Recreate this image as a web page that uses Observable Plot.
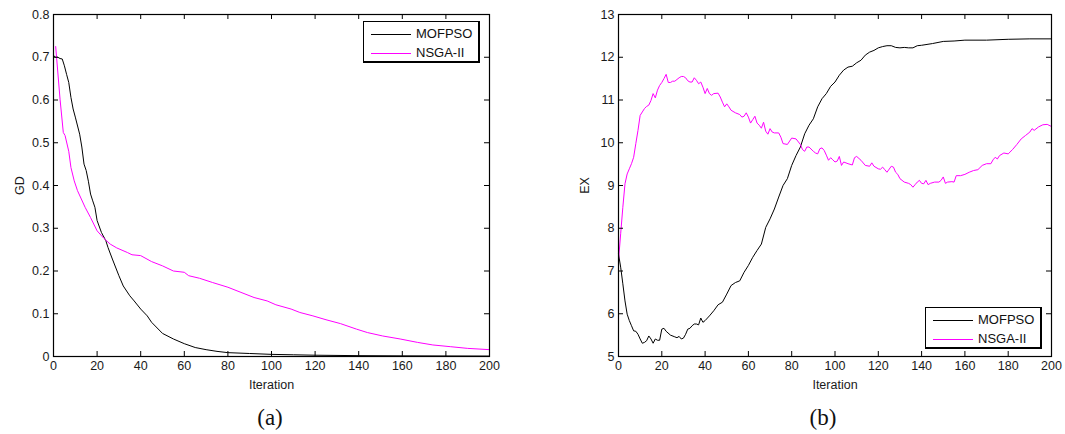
<!DOCTYPE html>
<html>
<head>
<meta charset="utf-8">
<script src="https://cdn.jsdelivr.net/npm/d3@7"></script>
<script src="https://cdn.jsdelivr.net/npm/@observablehq/plot@0.6"></script>
<style>
  html, body { margin: 0; padding: 0; background: #fff; }
  #root { position: relative; width: 1065px; height: 434px; overflow: hidden; background: #fff; }
  .panel { position: absolute; top: 0; }
  .caption { position: absolute; font-family: "Liberation Serif", "Times New Roman", serif; font-size: 23px; color: #111; transform: translateX(-50%); }
  .legend { position: absolute; box-sizing: border-box; border: 1px solid #000; border-right-width: 2px; border-bottom-width: 2px; background: #fff;
            font-family: "Liberation Sans", Arial, sans-serif; font-size: 13px; color: #111; }
  .row { position: absolute; left: 0; right: 0; height: 16px; }
  .row .sw { position: absolute; left: 7px; width: 40px; top: 8px; border-top: 1px solid; }
  .row .lb { position: absolute; left: 52px; top: 0px; line-height: 16px; }
</style>
</head>
<body>
<div id="root"></div>
<script>
// ---------- data ----------
const seriesNames = ["MOFPSO", "NSGA-II"];
const seriesColors = ["#000000", "#ff00ff"];
const xTicks = [0, 20, 40, 60, 80, 100, 120, 140, 160, 180, 200];
const gdTicks = [0, 0.1, 0.2, 0.3, 0.4, 0.5, 0.6, 0.7, 0.8];
const exTicks = [5, 6, 7, 8, 9, 10, 11, 12, 13];

// (a) GD, [iteration, value]
const gdMofpso = [
  [0,0.704],[1,0.70],[2,0.70],[3,0.697],[4,0.696],[5,0.68],[6,0.66],[7,0.641],[8,0.606],[9,0.579],[10,0.56],
  [12,0.52],[13,0.49],[14,0.45],[15,0.435],[16,0.41],[17,0.38],[18,0.364],[19,0.349],[20,0.318],[22,0.29],
  [24,0.271],[25,0.255],[27,0.228],[30,0.189],[32,0.165],[35,0.142],[37,0.130],[40,0.111],[43,0.095],[45,0.080],
  [50,0.054],[55,0.041],[60,0.030],[65,0.021],[70,0.016],[75,0.012],[80,0.009],[90,0.007],[100,0.005],[110,0.004],
  [120,0.003],[140,0.002],[160,0.0015],[200,0.001]
];
const gdNsga = [
  [1,0.725],[3,0.602],[4.5,0.524],[5.3,0.517],[7,0.48],[8,0.442],[9.5,0.411],[11,0.388],[14.5,0.349],[17,0.325],
  [20,0.294],[23,0.277],[26,0.263],[29,0.254],[34,0.243],[36,0.238],[40,0.236],[45,0.222],[50,0.212],[55,0.20],
  [60,0.197],[62,0.189],[67,0.183],[73,0.173],[80,0.162],[86,0.150],[92,0.138],[98,0.130],[102,0.121],[109,0.111],
  [113,0.103],[119,0.095],[125,0.086],[131.6,0.077],[139,0.064],[144,0.056],[151,0.048],[159,0.041],[167,0.033],
  [174,0.027],[182,0.023],[190,0.019],[200,0.016]
];

// (b) EX, [iteration, value]
const exMofpso = [
  [0,7.40],[1,7.09],[2,6.70],[3,6.30],[4,5.99],[5,5.84],[6,5.72],[7,5.60],[8,5.59],[9,5.52],[10,5.41],[11,5.31],
  [12,5.33],[13,5.37],[14,5.48],[15,5.41],[16,5.31],[17,5.41],[18,5.38],[19,5.38],[20,5.64],[21,5.66],[22,5.59],
  [24,5.50],[26,5.46],[27,5.44],[28,5.47],[29,5.41],[30,5.43],[31,5.52],[32,5.64],[33,5.66],[34,5.72],[35,5.76],
  [36,5.76],[37,5.74],[38,5.90],[39,5.80],[40,5.84],[42,5.95],[44,6.07],[46,6.21],[48,6.27],[50,6.46],[52,6.66],
  [54,6.73],[56,6.77],[58,6.97],[60,7.13],[62,7.32],[64,7.48],[66,7.63],[68,8.02],[70,8.22],[72,8.45],[74,8.73],
  [76,9.00],[78,9.16],[80,9.47],[82,9.70],[84,9.90],[86,10.21],[88,10.41],[90,10.56],[92,10.84],[94,11.03],
  [96,11.15],[98,11.32],[100,11.42],[102,11.58],[104,11.70],[106,11.77],[108,11.79],[110,11.87],[112,11.93],
  [114,12.05],[116,12.12],[118,12.16],[120,12.22],[122,12.25],[124,12.27],[126,12.27],[128,12.23],[130,12.22],
  [132,12.23],[134,12.22],[136,12.22],[138,12.27],[140,12.28],[145,12.32],[150,12.37],[155,12.38],[160,12.40],
  [170,12.40],[180,12.42],[190,12.43],[200,12.43]
];
const exNsga = [
  [0,7.24],[1,7.87],[2,8.49],[3,9.04],[4,9.27],[5,9.39],[6,9.51],[7,9.66],[8,9.98],[9,10.29],[10,10.64],[11,10.72],
  [12,10.80],[13,10.85],[14,10.88],[15,10.99],[16,11.15],[17,11.05],[18,11.23],[19,11.34],[20,11.41],[21,11.50],
  [22,11.60],[23,11.41],[24,11.41],[25,11.44],[26,11.44],[27,11.48],[28,11.52],[29,11.55],[30,11.55],[31,11.52],
  [32,11.45],[33,11.42],[34,11.42],[35,11.52],[36,11.46],[37,11.38],[38,11.42],[39,11.30],[40,11.15],[41,11.27],
  [42,11.15],[43,11.11],[44,11.15],[46,11.16],[47,11.07],[48,10.95],[49,10.84],[50,10.91],[51,10.84],[52,10.76],
  [54,10.70],[56,10.66],[57,10.60],[58,10.62],[59,10.70],[60,10.60],[61,10.46],[62,10.54],[63,10.62],[64,10.46],
  [65,10.41],[66,10.34],[67,10.48],[68,10.27],[69,10.20],[70,10.33],[71,10.25],[72,10.23],[74,10.23],[75,10.13],
  [76,9.98],[78,9.96],[80,10.11],[82,10.09],[84,9.96],[85,9.84],[86,9.80],[87,9.90],[88,9.90],[90,9.80],[91,9.76],
  [92,9.74],[93,9.86],[94,9.88],[95,9.82],[96,9.71],[97,9.59],[98,9.65],[99,9.60],[100,9.55],[101,9.57],[102,9.68],
  [103,9.47],[104,9.55],[106,9.51],[108,9.48],[109,9.65],[110,9.68],[112,9.59],[114,9.47],[116,9.45],[117,9.53],
  [118,9.45],[120,9.39],[121,9.38],[122,9.43],[123,9.37],[124,9.31],[126,9.45],[127,9.43],[128,9.31],[129,9.26],
  [130,9.16],[132,9.08],[134,9.05],[135,9.02],[136,8.96],[137,9.02],[138,9.08],[139,9.12],[140,9.05],[141,9.04],
  [142,9.12],[143,9.02],[144,9.05],[146,9.08],[148,9.08],[149,9.12],[150,9.20],[151,9.05],[152,9.08],[154,9.09],
  [155,9.08],[156,9.23],[158,9.23],[160,9.26],[162,9.31],[164,9.35],[166,9.37],[168,9.47],[170,9.51],[172,9.51],
  [173,9.60],[174,9.66],[175,9.62],[176,9.70],[178,9.76],[180,9.74],[182,9.84],[184,9.96],[186,10.09],[188,10.17],
  [190,10.25],[191,10.33],[192,10.29],[194,10.37],[196,10.42],[198,10.43],[200,10.38]
];

// ---------- drawing ----------
const fmt = d => String(+(+d).toFixed(2));
const TICK = 5;
const HEIGHT = 395, MT = 14, MB = 39;

function panel({series, yDomain, yTicks, yLabel, width, marginLeft, marginRight}) {
  const innerW = width - marginLeft - marginRight;
  const innerH = HEIGHT - MT - MB;
  const tk = {stroke: "#000", strokeWidth: 1};
  return Plot.plot({
    width, height: HEIGHT,
    marginLeft, marginRight, marginTop: MT, marginBottom: MB,
    style: {fontFamily: "'Liberation Sans', Arial, sans-serif", fontSize: "12.5px", color: "#1a1a1a", background: "#fff", overflow: "visible"},
    x: {domain: [0, 200]},
    y: {domain: yDomain},
    marks: [
      ...series.map((s, i) => Plot.line(s, {x: d => d[0], y: d => d[1], stroke: seriesColors[i], strokeWidth: 1})),
      // inward MATLAB-style ticks on all four sides
      Plot.tickX(xTicks, {x: d => d, insetTop: innerH - TICK, ...tk}),
      Plot.tickX(xTicks, {x: d => d, insetBottom: innerH - TICK, ...tk}),
      Plot.tickY(yTicks, {y: d => d, insetRight: innerW - TICK, ...tk}),
      Plot.tickY(yTicks, {y: d => d, insetLeft: innerW - TICK, ...tk}),
      Plot.axisX({ticks: xTicks, tickSize: 0, tickPadding: 5, tickFormat: fmt, label: "Iteration", labelAnchor: "center", labelArrow: "none", labelOffset: 32}),
      Plot.axisY({ticks: yTicks, tickSize: 0, tickPadding: 4, tickFormat: fmt, label: yLabel, labelAnchor: "center", labelArrow: "none", labelOffset: 38}),
      Plot.frame({stroke: "#000", strokeWidth: 1.2})
    ]
  });
}

const root = document.getElementById("root");

function place(node, left) {
  const d = document.createElement("div");
  d.className = "panel";
  d.style.left = left + "px";
  d.appendChild(node);
  root.appendChild(d);
}

place(panel({series: [gdMofpso, gdNsga], yDomain: [0, 0.8], yTicks: gdTicks, yLabel: "GD", width: 500, marginLeft: 53, marginRight: 11}), 0);
place(panel({series: [exMofpso, exNsga], yDomain: [5, 13], yTicks: exTicks, yLabel: "EX", width: 525, marginLeft: 78, marginRight: 14}), 540);

function legend(left, top) {
  const lg = document.createElement("div");
  lg.className = "legend";
  Object.assign(lg.style, {left: left + "px", top: top + "px", width: "117px", height: "42px"});
  seriesNames.forEach((n, i) => {
    const r = document.createElement("div");
    r.className = "row";
    r.style.top = (4 + i * 19) + "px";
    r.innerHTML = `<span class="sw" style="border-color:${seriesColors[i]}"></span><span class="lb">${n}</span>`;
    lg.appendChild(r);
  });
  root.appendChild(lg);
}
legend(363, 21);
legend(925, 307);

function caption(text, x, y) {
  const c = document.createElement("div");
  c.className = "caption";
  c.textContent = text;
  c.style.left = x + "px";
  c.style.top = y + "px";
  root.appendChild(c);
}
caption("(a)", 270, 405);
caption("(b)", 823, 405);
</script>
</body>
</html>
